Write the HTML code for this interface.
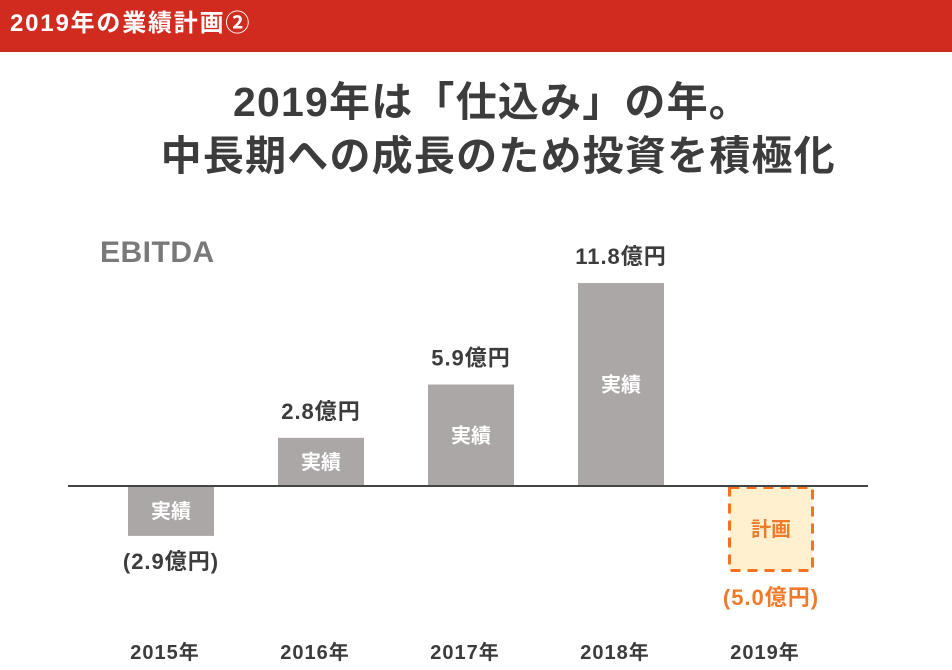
<!DOCTYPE html>
<html><head><meta charset="utf-8">
<style>
html,body{margin:0;padding:0;width:952px;height:670px;overflow:hidden;background:#fff;font-family:"Liberation Sans","Noto Sans CJK JP",sans-serif;}
#hdr{position:absolute;left:0;top:0;width:952px;height:52px;background:#d12b20;}
#hdr span{position:absolute;left:10px;top:9px;color:#fff;font-weight:bold;font-size:24px;line-height:30px;letter-spacing:1.8px;}
#title{position:absolute;left:16px;top:75px;width:952px;text-align:center;font-weight:bold;font-size:41px;line-height:54px;color:#3c3c3c;letter-spacing:1.2px;}
svg{position:absolute;left:0;top:0;}
</style></head><body>
<div id="hdr"><span>2019年の業績計画②</span></div>
<div id="title">2019年は「仕込み」の年。<br>&nbsp;中長期への成長のため投資を積極化</div>
<svg id="chart" width="952" height="670"></svg>
<script>
const years=["2015年","2016年","2017年","2018年","2019年"];
const values=[-2.9,2.8,5.9,11.8,-5.0];
const valueLabels=["(2.9億円)","2.8億円","5.9億円","11.8億円","(5.0億円)"];
const kinds=["実績","実績","実績","実績","計画"];
const NS="http://www.w3.org/2000/svg";
const svg=document.getElementById('chart');
const y0=486, scale=17.2;
function yPos(v){return y0-v*scale;}
function xPos(i){return 128+i*150;}
const bw=86;
function mk(tag,attrs,txt){const e=document.createElementNS(NS,tag);for(const k in attrs)e.setAttribute(k,attrs[k]);if(txt!=null)e.textContent=txt;svg.appendChild(e);return e;}
const t=mk('text',{x:100,y:262,'font-size':30,'font-weight':'bold',fill:'#7b7878','letter-spacing':0.5});
t.textContent='EBITDA';


values.forEach((v,i)=>{
  const x=xPos(i), yt=Math.min(yPos(v),y0), h=Math.abs(yPos(v)-y0);
  const plan=kinds[i]==="計画";
  const r=mk('rect',plan?{x:x+1.5,y:yt+1.5,width:bw-3,height:h-3,fill:'#fff0cf',stroke:'#f5731e','stroke-width':3,'stroke-dasharray':'10 7'}:{x:x,y:yt,width:bw,height:h,fill:'#aba7a6'});
  
  
  const it=mk('text',{x:x+bw/2,y:yt+h/2+7,'text-anchor':'middle','font-size':20,'font-weight':'bold',fill:plan?'#ee7a2a':'#fff'},kinds[i]);
  
  
  const ly=v>=0?yPos(v)-19:yPos(v)+33;
  const vl=mk('text',{x:x+bw/2,y:ly,'text-anchor':'middle','font-size':22,'font-weight':'bold','letter-spacing':1,fill:plan?'#ee7a2a':'#3c3c3c'},valueLabels[i]);
  
  
  const yl=mk('text',{x:x+bw/2-6,y:659,'text-anchor':'middle','font-size':20,'font-weight':'bold','letter-spacing':1,fill:'#3c3c3c'},years[i]);
  
  
});
const ax=mk('line',{x1:68,x2:868,y1:y0,y2:y0,stroke:'#444',"stroke-width":2});


</script>
</body></html>
